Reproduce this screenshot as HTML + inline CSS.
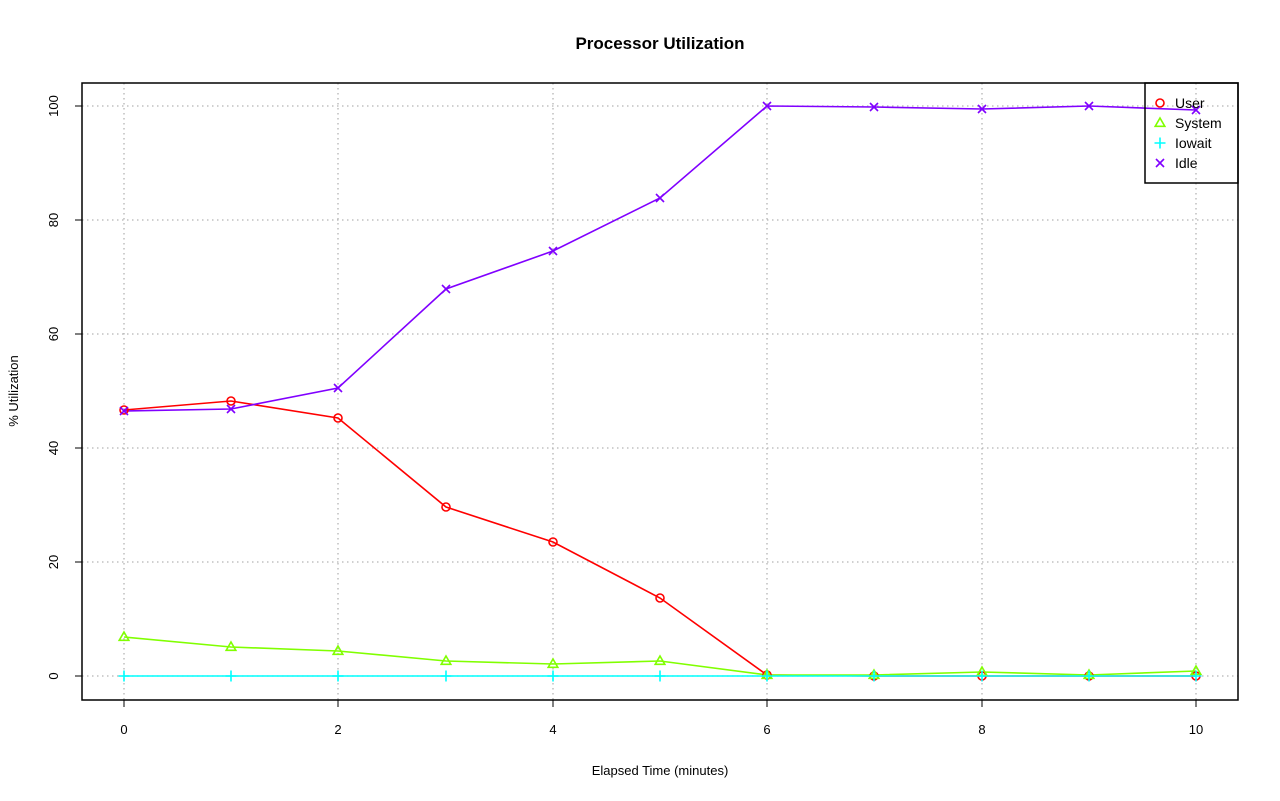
<!DOCTYPE html>
<html><head><meta charset="utf-8"><style>body{margin:0;background:#fff}svg{display:block}text{font-family:"Liberation Sans",sans-serif;fill:#000}</style></head><body>
<svg width="1280" height="801" xmlns="http://www.w3.org/2000/svg">
<defs>
<g id="c"><circle r="4" fill="none" stroke="#FF0000" stroke-width="1.6"/></g>
<g id="t"><path d="M0,-5 L4.8,3.3 L-4.8,3.3 Z" fill="none" stroke="#80FF00" stroke-width="1.6"/></g>
<g id="p"><path d="M-5.5,0 H5.5 M0,-5.5 V5.5" stroke="#00FFFF" stroke-width="1.6"/></g>
<g id="x"><path d="M-4,-4 L4,4 M-4,4 L4,-4" stroke="#8000FF" stroke-width="1.6"/></g>
</defs>
<text x="660" y="49" text-anchor="middle" font-size="17" font-weight="bold">Processor Utilization</text>
<g stroke="#b4b4b4" stroke-dasharray="1.5,3.5" stroke-width="1.3">
<path d="M124,83V700M338,83V700M553,83V700M767,83V700M982,83V700M1196,83V700"/>
<path d="M82,676H1238M82,562H1238M82,448H1238M82,334H1238M82,220H1238M82,106H1238"/>
</g>
<rect x="82" y="83" width="1156" height="617" fill="none" stroke="#000" stroke-width="1.5"/>
<g stroke="#000"><path d="M124,700v7M338,700v7M553,700v7M767,700v7M982,700v7M1196,700v7M82,676h-7M82,562h-7M82,448h-7M82,334h-7M82,220h-7M82,106h-7"/></g>
<g font-size="13" text-anchor="middle">
<text x="124" y="734">0</text><text x="338" y="734">2</text><text x="553" y="734">4</text><text x="767" y="734">6</text><text x="982" y="734">8</text><text x="1196" y="734">10</text>
<text transform="translate(58,676) rotate(-90)">0</text>
<text transform="translate(58,562) rotate(-90)">20</text>
<text transform="translate(58,448) rotate(-90)">40</text>
<text transform="translate(58,334) rotate(-90)">60</text>
<text transform="translate(58,220) rotate(-90)">80</text>
<text transform="translate(58,106) rotate(-90)">100</text>
<text x="660" y="775">Elapsed Time (minutes)</text>
<text transform="translate(18,391) rotate(-90)">% Utilization</text>
</g>
<g fill="none" stroke-width="1.6">
<polyline stroke="#FF0000" points="124,410 231,401 338,418 446,507 553,542 660,598 767,675 874,676 982,676 1089,676 1196,676"/>
<polyline stroke="#80FF00" points="124,637 231,647 338,651 446,661 553,664 660,661 767,675 874,675 982,672 1089,675 1196,671"/>
<polyline stroke="#00FFFF" points="124,676 1196,676"/>
<polyline stroke="#8000FF" points="124,411 231,409 338,388 446,289 553,251 660,198 767,106 874,107 982,109 1089,106 1196,110"/>
</g>
<g>
<use href="#c" x="124" y="410"/><use href="#c" x="231" y="401"/><use href="#c" x="338" y="418"/><use href="#c" x="446" y="507"/><use href="#c" x="553" y="542"/><use href="#c" x="660" y="598"/><use href="#c" x="767" y="675"/><use href="#c" x="874" y="676"/><use href="#c" x="982" y="676"/><use href="#c" x="1089" y="676"/><use href="#c" x="1196" y="676"/>
<use href="#t" x="124" y="637"/><use href="#t" x="231" y="647"/><use href="#t" x="338" y="651"/><use href="#t" x="446" y="661"/><use href="#t" x="553" y="664"/><use href="#t" x="660" y="661"/><use href="#t" x="767" y="675"/><use href="#t" x="874" y="675"/><use href="#t" x="982" y="672"/><use href="#t" x="1089" y="675"/><use href="#t" x="1196" y="671"/>
<use href="#p" x="124" y="676"/><use href="#p" x="231" y="676"/><use href="#p" x="338" y="676"/><use href="#p" x="446" y="676"/><use href="#p" x="553" y="676"/><use href="#p" x="660" y="676"/><use href="#p" x="767" y="676"/><use href="#p" x="874" y="676"/><use href="#p" x="982" y="676"/><use href="#p" x="1089" y="676"/><use href="#p" x="1196" y="676"/>
<use href="#x" x="124" y="411"/><use href="#x" x="231" y="409"/><use href="#x" x="338" y="388"/><use href="#x" x="446" y="289"/><use href="#x" x="553" y="251"/><use href="#x" x="660" y="198"/><use href="#x" x="767" y="106"/><use href="#x" x="874" y="107"/><use href="#x" x="982" y="109"/><use href="#x" x="1089" y="106"/><use href="#x" x="1196" y="110"/>
</g>
<rect x="1145" y="83" width="93" height="100" fill="none" stroke="#000" stroke-width="1.5"/>
<use href="#c" x="1160" y="103"/><use href="#t" x="1160" y="123"/><use href="#p" x="1160" y="143"/><use href="#x" x="1160" y="163"/>
<g font-size="14"><text x="1175" y="108">User</text><text x="1175" y="128">System</text><text x="1175" y="148">Iowait</text><text x="1175" y="168">Idle</text></g>
</svg>
</body></html>
